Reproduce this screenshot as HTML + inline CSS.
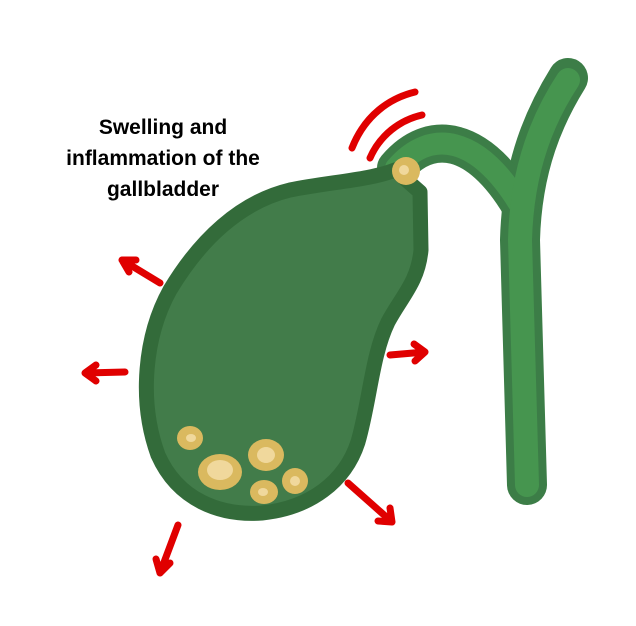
<!DOCTYPE html>
<html><head><style>html,body{margin:0;padding:0;background:#fff;width:636px;height:626px;overflow:hidden}</style></head>
<body>
<svg width="636" height="626" viewBox="0 0 636 626" xmlns="http://www.w3.org/2000/svg">
<g fill="none" stroke-linejoin="round" stroke-linecap="round">
  <path d="M568 78 C545 115 522 165 520 240 L527 485" stroke="#3c7d47" stroke-width="40"/>
  <path d="M396 168 C430 128 478 135 520 205" stroke="#3c7d47" stroke-width="38"/>
  <path d="M396 168 C430 128 478 135 520 205" stroke="#46954f" stroke-width="22"/>
  <path d="M568 80 C545 115 522 165 520 240 L527 485" stroke="#46954f" stroke-width="24"/>
</g>
<path d="M395 170 C370 180 330 182 290 190 C240 202 200 240 170 290 C145 335 138 400 158 455 C178 500 220 516 262 513 C310 508 345 482 358 442 C370 400 372 355 388 322 C402 296 418 282 421 250 L420 192 Z" fill="#427c4a" stroke="#336b3a" stroke-width="15" stroke-linejoin="round"/>
<circle cx="406" cy="171" r="14" fill="#dab95f"/>
<circle cx="404" cy="170" r="5" fill="#f0d89c"/>
<g fill="#dab95f">
  <ellipse cx="190" cy="438" rx="13" ry="12"/>
  <ellipse cx="220" cy="472" rx="22" ry="18"/>
  <ellipse cx="266" cy="455" rx="18" ry="16"/>
  <ellipse cx="264" cy="492" rx="14" ry="12"/>
  <ellipse cx="295" cy="481" rx="13" ry="13"/>
</g>
<g fill="#f0d89c">
  <ellipse cx="191" cy="438" rx="5" ry="4"/>
  <ellipse cx="220" cy="470" rx="13" ry="10"/>
  <ellipse cx="266" cy="455" rx="9" ry="8"/>
  <ellipse cx="263" cy="492" rx="5" ry="4"/>
  <ellipse cx="295" cy="481" rx="5" ry="5"/>
</g>
<g fill="none" stroke="#e00000" stroke-width="7" stroke-linecap="round" stroke-linejoin="round">
  <path d="M352 148 C365 115 390 98 415 92"/>
  <path d="M370 158 C380 135 400 120 422 115"/>
  <path d="M160 283 L122 260 M122 260 L136 260 M122 260 L129 272"/>
  <path d="M125 372 L85 373 M85 373 L96 365 M85 373 L96 381"/>
  <path d="M390 355 L425 352 M425 352 L414 344 M425 352 L415 361"/>
  <path d="M348 483 L392 522 M392 522 L378 521 M392 522 L390 508"/>
  <path d="M178 525 L160 573 M160 573 L156 559 M160 573 L170 563"/>
</g>
<g font-family="Liberation Sans, sans-serif" font-size="21" fill="#000" text-anchor="middle" font-weight="bold">
  <text x="163" y="134">Swelling and</text>
  <text x="163" y="165">inflammation of the</text>
  <text x="163" y="196">gallbladder</text>
</g>
</svg>
</body></html>
